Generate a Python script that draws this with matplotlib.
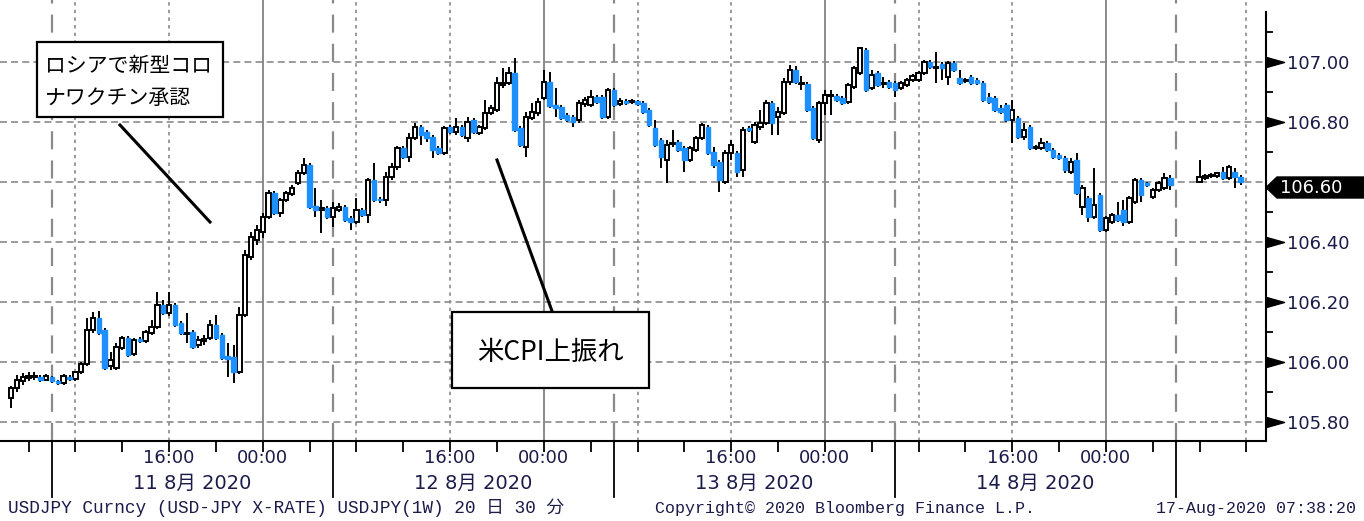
import numpy as np
import pandas as pd
import matplotlib
matplotlib.use('Agg')
import matplotlib.pyplot as plt
from matplotlib.patches import Rectangle, Polygon
from matplotlib.lines import Line2D

# USDJPY 30 minute bars, 11-14 Aug 2020
opens = [
    105.880, 105.914, 105.937, 105.947, 105.950, 105.950, 105.940, 105.950, 105.937, 105.930,
    105.950, 105.944, 105.967, 105.994, 106.107, 106.147, 106.107, 105.987, 105.980, 106.047,
    106.080, 106.027, 106.077, 106.070, 106.097, 106.117, 106.190, 106.164, 106.190, 106.130,
    106.094, 106.100, 106.057, 106.070, 106.080, 106.124, 106.090, 106.020, 106.017, 105.967,
    106.157, 106.350, 106.407, 106.434, 106.484, 106.564, 106.497, 106.540, 106.560, 106.597,
    106.630, 106.657, 106.520, 106.507, 106.514, 106.484, 106.507, 106.517, 106.480, 106.467,
    106.507, 106.490, 106.607, 106.544, 106.540, 106.617, 106.650, 106.714, 106.684, 106.747,
    106.784, 106.767, 106.750, 106.714, 106.697, 106.784, 106.767, 106.784, 106.747, 106.807,
    106.764, 106.780, 106.830, 106.840, 106.924, 106.930, 106.964, 106.780, 106.717, 106.814,
    106.830, 106.880, 106.934, 106.857, 106.850, 106.824, 106.817, 106.807, 106.860, 106.857,
    106.884, 106.884, 106.817, 106.907, 106.860, 106.870, 106.867, 106.870, 106.864, 106.840,
    106.780, 106.740, 106.674, 106.727, 106.734, 106.714, 106.674, 106.707, 106.747, 106.784,
    106.700, 106.667, 106.600, 106.697, 106.697, 106.640, 106.780, 106.734, 106.784, 106.797,
    106.864, 106.817, 106.830, 106.934, 106.974, 106.927, 106.927, 106.847, 106.740, 106.864,
    106.887, 106.887, 106.880, 106.867, 106.917, 106.964, 107.040, 106.914, 106.964, 106.927,
    106.934, 106.930, 106.914, 106.924, 106.940, 106.940, 106.964, 107.000, 106.980, 106.994,
    106.950, 106.997, 106.947, 106.937, 106.950, 106.940, 106.930, 106.884, 106.880, 106.847,
    106.857, 106.807, 106.814, 106.750, 106.784, 106.714, 106.714, 106.730, 106.707, 106.690,
    106.680, 106.634, 106.674, 106.517, 106.547, 106.484, 106.557, 106.440, 106.467, 106.490,
    106.507, 106.467, 106.534, 106.607, 106.597, 106.550, 106.574, 106.580, 106.614,
    106.600, 106.614, 106.620, 106.620, 106.634, 106.614, 106.634, 106.617,
]
highs = [
    105.920, 105.957, 105.964, 105.967, 105.967, 105.957, 105.960, 105.954, 105.940, 105.960,
    105.957, 105.970, 106.000, 106.147, 106.167, 106.170, 106.114, 106.034, 106.064, 106.087,
    106.087, 106.080, 106.084, 106.107, 106.140, 106.234, 106.207, 106.234, 106.197, 106.137,
    106.164, 106.107, 106.087, 106.090, 106.140, 106.157, 106.097, 106.064, 106.057, 106.184,
    106.374, 106.434, 106.457, 106.497, 106.574, 106.570, 106.547, 106.570, 106.590, 106.640,
    106.680, 106.664, 106.580, 106.540, 106.520, 106.534, 106.530, 106.524, 106.487, 106.547,
    106.514, 106.614, 106.664, 106.550, 106.634, 106.664, 106.720, 106.720, 106.764, 106.797,
    106.790, 106.774, 106.757, 106.720, 106.787, 106.790, 106.814, 106.790, 106.817, 106.814,
    106.790, 106.874, 106.857, 106.950, 106.980, 106.984, 107.014, 106.787, 106.834, 106.864,
    106.880, 106.974, 106.967, 106.914, 106.857, 106.830, 106.824, 106.874, 106.884, 106.907,
    106.890, 106.890, 106.914, 106.914, 106.880, 106.877, 106.877, 106.874, 106.870, 106.847,
    106.807, 106.747, 106.740, 106.774, 106.740, 106.720, 106.720, 106.754, 106.797, 106.790,
    106.717, 106.674, 106.707, 106.740, 106.704, 106.784, 106.787, 106.800, 106.840, 106.874,
    106.870, 106.850, 106.947, 106.990, 106.987, 106.954, 106.934, 106.854, 106.870, 106.907,
    106.907, 106.894, 106.887, 106.930, 106.987, 107.050, 107.047, 106.974, 106.970, 106.950,
    106.940, 106.937, 106.937, 106.947, 106.960, 106.970, 107.007, 107.007, 107.034, 107.000,
    107.004, 107.004, 106.974, 106.947, 106.957, 106.947, 106.937, 106.897, 106.887, 106.857,
    106.864, 106.874, 106.820, 106.797, 106.790, 106.724, 106.747, 106.737, 106.714, 106.697,
    106.687, 106.680, 106.697, 106.590, 106.554, 106.647, 106.564, 106.487, 106.497, 106.534,
    106.540, 106.554, 106.614, 106.614, 106.600, 106.580, 106.604, 106.630, 106.624,
    106.674, 106.627, 106.630, 106.634, 106.650, 106.657, 106.647, 106.624,
]
lows = [
    105.847, 105.900, 105.924, 105.937, 105.940, 105.934, 105.937, 105.930, 105.924, 105.924,
    105.937, 105.937, 105.960, 105.987, 106.097, 106.090, 105.974, 105.974, 105.974, 106.040,
    106.017, 106.020, 106.064, 106.064, 106.090, 106.110, 106.157, 106.154, 106.117, 106.090,
    106.064, 106.044, 106.047, 106.057, 106.074, 106.074, 106.007, 105.950, 105.930, 105.960,
    106.150, 106.340, 106.390, 106.414, 106.477, 106.490, 106.484, 106.534, 106.554, 106.590,
    106.624, 106.510, 106.484, 106.430, 106.477, 106.450, 106.500, 106.467, 106.440, 106.460,
    106.484, 106.464, 106.534, 106.530, 106.520, 106.607, 106.640, 106.677, 106.667, 106.740,
    106.724, 106.734, 106.680, 106.690, 106.690, 106.760, 106.757, 106.750, 106.734, 106.760,
    106.757, 106.774, 106.824, 106.834, 106.914, 106.924, 106.767, 106.717, 106.684, 106.807,
    106.820, 106.874, 106.847, 106.817, 106.807, 106.800, 106.784, 106.797, 106.850, 106.850,
    106.860, 106.810, 106.810, 106.850, 106.854, 106.857, 106.860, 106.854, 106.827, 106.784,
    106.717, 106.647, 106.597, 106.717, 106.700, 106.634, 106.667, 106.700, 106.740, 106.690,
    106.647, 106.567, 106.594, 106.674, 106.617, 106.617, 106.767, 106.727, 106.774, 106.790,
    106.757, 106.757, 106.824, 106.924, 106.927, 106.907, 106.834, 106.740, 106.730, 106.824,
    106.824, 106.867, 106.857, 106.860, 106.910, 106.957, 106.900, 106.907, 106.917, 106.914,
    106.910, 106.884, 106.907, 106.917, 106.934, 106.934, 106.957, 106.977, 106.930, 106.940,
    106.924, 106.967, 106.924, 106.930, 106.924, 106.924, 106.867, 106.860, 106.834, 106.827,
    106.800, 106.730, 106.744, 106.740, 106.707, 106.707, 106.707, 106.700, 106.677, 106.674,
    106.630, 106.627, 106.557, 106.490, 106.467, 106.477, 106.434, 106.434, 106.460, 106.467,
    106.454, 106.460, 106.527, 106.534, 106.584, 106.544, 106.567, 106.574, 106.574,
    106.597, 106.607, 106.614, 106.614, 106.607, 106.607, 106.580, 106.590,
]
closes = [
    105.914, 105.940, 105.950, 105.954, 105.954, 105.940, 105.954, 105.937, 105.930, 105.954,
    105.944, 105.967, 105.994, 106.107, 106.147, 106.097, 105.980, 106.007, 106.050, 106.080,
    106.024, 106.074, 106.070, 106.100, 106.117, 106.190, 106.164, 106.190, 106.124, 106.097,
    106.097, 106.050, 106.074, 106.077, 106.124, 106.080, 106.014, 106.010, 105.967, 106.157,
    106.357, 106.417, 106.440, 106.484, 106.564, 106.497, 106.540, 106.564, 106.580, 106.630,
    106.657, 106.517, 106.507, 106.514, 106.484, 106.514, 106.517, 106.474, 106.467, 106.507,
    106.490, 106.607, 106.540, 106.540, 106.617, 106.650, 106.714, 106.684, 106.747, 106.784,
    106.757, 106.747, 106.707, 106.697, 106.780, 106.767, 106.784, 106.757, 106.800, 106.767,
    106.784, 106.830, 106.847, 106.930, 106.930, 106.964, 106.774, 106.724, 106.817, 106.834,
    106.867, 106.934, 106.854, 106.847, 106.814, 106.807, 106.800, 106.864, 106.874, 106.884,
    106.867, 106.817, 106.907, 106.857, 106.870, 106.864, 106.870, 106.860, 106.834, 106.790,
    106.724, 106.684, 106.724, 106.730, 106.707, 106.674, 106.714, 106.747, 106.790, 106.697,
    106.657, 106.607, 106.697, 106.724, 106.634, 106.774, 106.774, 106.790, 106.797, 106.864,
    106.797, 106.834, 106.934, 106.974, 106.934, 106.930, 106.840, 106.747, 106.864, 106.890,
    106.890, 106.874, 106.864, 106.924, 106.980, 107.047, 106.907, 106.957, 106.924, 106.930,
    106.917, 106.907, 106.930, 106.940, 106.954, 106.964, 107.000, 106.984, 106.984, 106.980,
    106.997, 106.974, 106.930, 106.940, 106.930, 106.930, 106.874, 106.867, 106.840, 106.834,
    106.807, 106.840, 106.750, 106.774, 106.714, 106.717, 106.730, 106.707, 106.684, 106.680,
    106.640, 106.667, 106.564, 106.580, 106.484, 106.524, 106.440, 106.480, 106.490, 106.474,
    106.467, 106.547, 106.607, 106.557, 106.590, 106.574, 106.597, 106.614, 106.590,
    106.617, 106.620, 106.624, 106.630, 106.614, 106.650, 106.617, 106.600,
]
missing_slots = [199, 200, 201, 202]   # break in the feed before the last bars
last_price = 106.60

y_ticks = [105.80, 106.00, 106.20, 106.40, 106.60, 106.80, 107.00]
time_ticks = [16, 24, 40, 48, 64, 72, 88, 96]        # hours from 11 Aug 00:00
time_labels = ['16:00', '00:00'] * 4
day_centers = [18, 42, 66, 90]
day_labels = ['11 8月 2020', '12 8月 2020', '13 8月 2020', '14 8月 2020']
footer_left = 'USDJPY Curncy (USD-JPY X-RATE) USDJPY(1W) 20 日 30 分'
footer_mid = 'Copyright© 2020 Bloomberg Finance L.P.'
footer_right = '17-Aug-2020 07:38:20'

slots = pd.date_range('2020-08-11 02:30', periods=211, freq='30min').delete(missing_slots)
assert len(slots) == len(opens) == len(highs) == len(lows) == len(closes)
x = np.asarray((slots - pd.Timestamp('2020-08-11')) / pd.Timedelta(hours=1))
o, h, l, c = map(np.asarray, (opens, highs, lows, closes))

BLUE = '#1e8fff'
GRID = '#8a8a8a'
NAVY = '#1b1b4a'
plt.rcParams['lines.scale_dashes'] = False

W, H = 1364, 521
fig = plt.figure(figsize=(W / 100, H / 100), dpi=100)
ax = fig.add_axes([0, 1 - 441 / H, 1266 / W, 441 / H])
px_per_h = 11.71
ax.set_xlim(6 - 52 / px_per_h, 6 + 1214 / px_per_h)
ax.set_ylim(107.2067 - 441 / 300, 107.2067)


def fx(xp, yp):
    # pixel position (top-left origin) -> figure fraction
    return xp / W, 1 - yp / H


# grid
for yv in y_ticks:
    ax.axhline(yv, color=GRID, lw=1.2, dashes=(5, 3), zorder=1)
for hv in [24, 48, 72, 96]:
    ax.axvline(hv, color=GRID, lw=1.4, zorder=1)
for hv in [6, 30, 54, 78, 102]:
    ax.axvline(hv, color=GRID, lw=1.6, dashes=(13, 8), zorder=1)
for hv in [8, 16, 32, 40, 56, 64, 80, 88, 108]:
    ax.axvline(hv, color=GRID, lw=1.2, dashes=(2.5, 3), zorder=1)

# candles
up = c >= o
ax.vlines(x, l, h, color='black', lw=1.4, zorder=3)
lo = np.minimum(o, c)
bh = np.maximum(np.abs(c - o), 0.003)
ax.bar(x[up], bh[up], bottom=lo[up], width=0.38, facecolor='white',
       edgecolor='black', lw=1.4, zorder=4)
ax.bar(x[~up], bh[~up], bottom=lo[~up], width=0.38, facecolor=BLUE,
       edgecolor=BLUE, lw=1.0, zorder=4)

# spines / ticks
for s in ['top', 'left']:
    ax.spines[s].set_visible(False)
ax.spines['right'].set_linewidth(1.5)
ax.spines['bottom'].set_linewidth(1.5)
ax.spines['right'].set_bounds(ax.get_ylim()[0], 107.167)

ax.yaxis.tick_right()
ax.set_yticks(y_ticks)
ax.set_yticklabels(['' if abs(v - last_price) < 1e-6 else f'{v:.2f}' for v in y_ticks])
ax.set_yticks(np.arange(105.9, 107.15, 0.2), minor=True)
ax.tick_params(axis='y', which='major', length=0, pad=15, labelsize=13, labelcolor=NAVY)
ax.tick_params(axis='y', which='minor', length=5, width=1.3, direction='out')
tri = [(0, 0.28), (1, 0), (0, -0.28)]
marks = [v for v in y_ticks if abs(v - last_price) > 1e-6]
ax.plot([1.0] * len(marks), marks, ls='none', marker=tri, ms=26, color='black',
        transform=ax.get_yaxis_transform(), clip_on=False)

ax.set_xticks(np.arange(4, 110, 4))
ax.set_xticklabels([])
ax.tick_params(axis='x', length=8, width=1.3, direction='out')
tx = ax.get_xaxis_transform()
for hv in [6, 30, 54, 78, 102]:
    ax.plot([hv, hv], [0, -56 / 441], color='black', lw=1.3, transform=tx, clip_on=False)
for hv, lab in zip(time_ticks, time_labels):
    ax.text(hv, -17 / 441, lab, transform=tx, ha='center', va='center', fontsize=13, color=NAVY)
for hv, lab in zip(day_centers, day_labels):
    ax.text(hv, -42 / 441, lab, transform=tx, ha='center', va='center', fontsize=14,
            color=NAVY, family=['DejaVu Sans', 'Noto Sans CJK JP'])

# footer
mono = ['Liberation Mono', 'Noto Sans CJK JP']
fig.text(*fx(8, 508), footer_left, fontsize=12.8, family=mono, va='center', color=NAVY)
fig.text(*fx(655, 508), footer_mid, fontsize=12, family=mono, va='center', color=NAVY)
fig.text(*fx(1356, 508), footer_right, fontsize=12, family=mono, va='center', ha='right', color=NAVY)

# current price flag
flag = [fx(1266, 187.5), fx(1277, 177), fx(1364, 177), fx(1364, 198), fx(1277, 198)]
fig.add_artist(Polygon(flag, closed=True, transform=fig.transFigure, facecolor='black',
                       edgecolor='black', zorder=5))
fig.text(*fx(1311, 188), f'{last_price:.2f}', fontsize=13, color='white', ha='center',
         va='center', zorder=6)

# annotations
jp = 'Noto Sans CJK JP'
fig.add_artist(Rectangle(fx(37, 117), 186 / W, 75 / H, transform=fig.transFigure,
                         facecolor='white', edgecolor='black', lw=1.6, zorder=5))
fig.text(*fx(45, 66), 'ロシアで新型コロ', fontsize=15, family=jp, va='center', zorder=6)
fig.text(*fx(45, 98), 'ナワクチン承認', fontsize=15, family=jp, va='center', zorder=6)
fig.add_artist(Line2D([120 / W, 210 / W], [1 - 125 / H, 1 - 222 / H], transform=fig.transFigure,
                      color='black', lw=2.2, zorder=5))

fig.add_artist(Rectangle(fx(452, 388), 197 / W, 76 / H, transform=fig.transFigure,
                         facecolor='white', edgecolor='black', lw=1.6, zorder=5))
fig.text(*fx(550, 352), '米CPI上振れ', fontsize=19, family=jp, va='center', ha='center', zorder=6)
fig.add_artist(Line2D([497 / W, 552 / W], [1 - 160 / H, 1 - 311 / H], transform=fig.transFigure,
                      color='black', lw=2.2, zorder=5))

fig.savefig('out.png', dpi=100, facecolor='white')
